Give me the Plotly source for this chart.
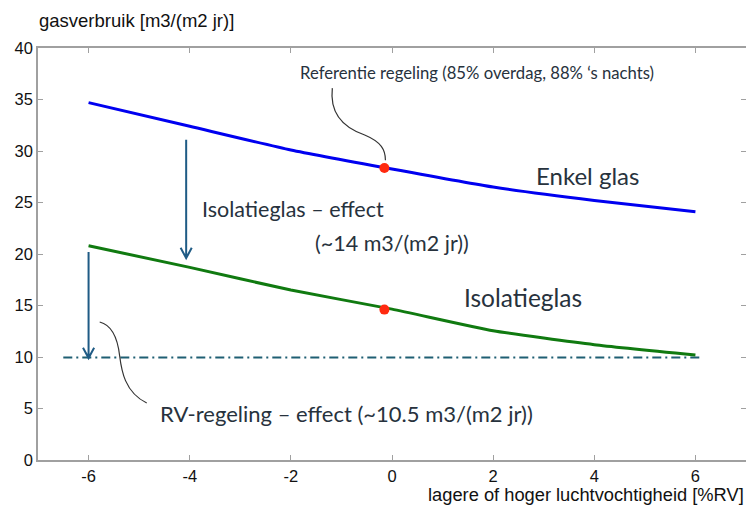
import plotly.graph_objects as go

# Data
rv = [-6, -4, -2, 0, 2, 4, 6]
enkel_glas = [34.7, 32.4, 30.1, 28.25, 26.5, 25.2, 24.1]
isolatieglas = [20.8, 18.7, 16.5, 14.65, 12.55, 11.2, 10.2]
ref_x = [-0.15, -0.15]
ref_y = [28.35, 14.6]
rv_line_x = [-6.5, 6.15]
rv_line_y = [9.95, 9.95]
x_ticks = [-6, -4, -2, 0, 2, 4, 6]
x_tick_labels = ["-6", "-4", "-2", "0", "2", "4", "6"]
y_ticks = [0, 5, 10, 15, 20, 25, 30, 35, 40]

TXT = "#27323d"
ARROW = "#1f5b85"
CAL = "Lato, 'Open Sans', sans-serif"

fig = go.Figure()
fig.add_trace(go.Scatter(x=rv_line_x, y=rv_line_y, mode="lines",
                         line=dict(color="#1f5f73", width=2, dash="9px,4px,2px,4px"),
                         hoverinfo="skip"))
fig.add_trace(go.Scatter(x=rv, y=enkel_glas, mode="lines",
                         line=dict(color="#0000f0", width=3, shape="spline", smoothing=0.5)))
fig.add_trace(go.Scatter(x=rv, y=isolatieglas, mode="lines",
                         line=dict(color="#107a10", width=3, shape="spline", smoothing=0.5)))
fig.add_trace(go.Scatter(x=ref_x, y=ref_y, mode="markers",
                         marker=dict(color="#ff2a10", size=10)))

shapes = []
def arrow(x, y0, y1):
    return dict(type="path", xref="x", yref="y",
                path=f"M {x},{y0} L {x},{y1} M {x-0.11},{y1+1.0} L {x},{y1} L {x+0.11},{y1+1.0}",
                line=dict(color=ARROW, width=2))
shapes.append(arrow(-4.07, 31.1, 19.6))
shapes.append(arrow(-6.0, 20.2, 9.9))
shapes.append(dict(type="path", xref="x", yref="y",
                   path="M -1.18,36.1 C -1.24,33.5 -0.94,32.23 -0.54,31.55 C -0.21,30.87 -0.13,30.1 -0.13,29.1",
                   line=dict(color="#333333", width=1.2)))
shapes.append(dict(type="path", xref="x", yref="y",
                   path="M -4.85,5.53 C -5.29,6.6 -5.35,8.74 -5.385,10.1 C -5.425,11.84 -5.54,13.11 -5.78,13.4",
                   line=dict(color="#333333", width=1.2)))

ann = [
    dict(x=1.69, y=37.6, text="Referentie regeling (85% overdag, 88% ‘s nachts)",
         font=dict(family=CAL, size=16.7, color=TXT)),
    dict(x=3.87, y=27.6, text="Enkel glas", font=dict(family=CAL, size=24, color=TXT)),
    dict(x=2.6, y=15.8, text="Isolatieglas", font=dict(family=CAL, size=24.5, color=TXT)),
    dict(x=-3.8, y=24.4, text="Isolatieglas – effect", xanchor="left",
         font=dict(family=CAL, size=21.5, color=TXT)),
    dict(x=-1.57, y=21.05, text="(~14 m3/(m2 jr))", xanchor="left",
         font=dict(family=CAL, size=21.5, color=TXT)),
    dict(x=-4.63, y=4.55, text="RV-regeling – effect (~10.5 m3/(m2 jr))", xanchor="left",
         font=dict(family=CAL, size=22, color=TXT)),
]
for a in ann:
    a.update(xref="x", yref="y", showarrow=False)
    a.setdefault("xanchor", "center")
    a["yanchor"] = "middle"

ann.append(dict(xref="paper", yref="paper", x=-0.002, y=1.0, yshift=28, xanchor="left",
                yanchor="middle", showarrow=False, text="gasverbruik [m3/(m2 jr)]",
                font=dict(family="Liberation Sans, Arial", size=18.5, color="#111")))
ann.append(dict(xref="paper", yref="paper", x=1.0, y=0.0, yshift=-34, xanchor="right",
                yanchor="middle", showarrow=False, text="lagere of hoger luchtvochtigheid [%RV]",
                font=dict(family="Liberation Sans, Arial", size=18.3, color="#111")))

axis_common = dict(showgrid=False, zeroline=False, showline=True, linecolor="#a0a0a0",
                   linewidth=1.5, mirror="ticks", ticks="inside", ticklen=5,
                   tickcolor="#a0a0a0", automargin=False,
                   tickfont=dict(family="Liberation Sans, Arial", size=16.5, color="#111"))
fig.update_layout(
    width=746, height=505, showlegend=False,
    paper_bgcolor="white", plot_bgcolor="white",
    margin=dict(l=38, r=0, t=48, b=45),
    xaxis=dict(range=[-7, 7], tickvals=x_ticks, ticktext=x_tick_labels,
               ticklabelstandoff=0, **axis_common),
    yaxis=dict(range=[0, 40], tickvals=y_ticks, **axis_common),
    shapes=shapes, annotations=ann,
)
fig.write_html("out.html", config={"displayModeBar": False},
               post_script="document.body.style.margin='0';document.body.style.overflow='hidden';")
